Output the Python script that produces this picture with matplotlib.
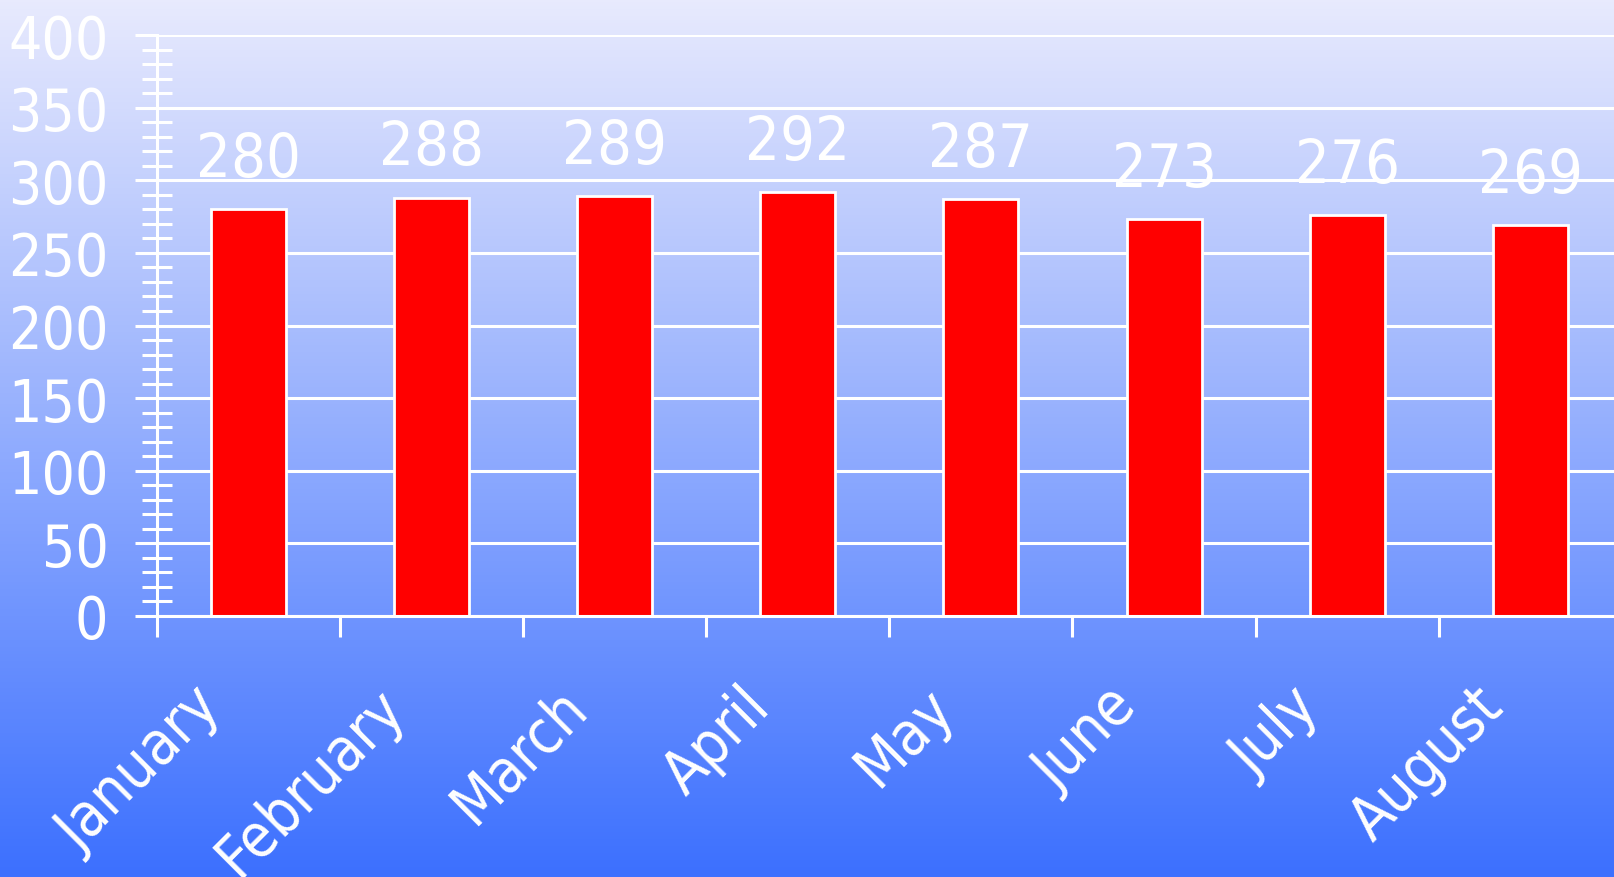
import numpy as np
import matplotlib
matplotlib.use("Agg")
import matplotlib.pyplot as plt
from matplotlib.colors import LinearSegmentedColormap
from matplotlib.ticker import MultipleLocator, FixedLocator, NullFormatter
import matplotlib.transforms as mtransforms

months = ["January", "February", "March", "April", "May", "June", "July", "August"]
values = [280, 288, 289, 292, 287, 273, 276, 269]
y_ticks = [0, 50, 100, 150, 200, 250, 300, 350, 400]

plt.rcParams['font.family'] = ['DejaVu Sans']
plt.rcParams['font.stretch'] = 'condensed'

W, H, DPI = 1615, 878, 100
fig = plt.figure(figsize=(W / DPI, H / DPI), dpi=DPI)

# background gradient
bg = fig.add_axes([0, 0, 1, 1], zorder=0)
cmap = LinearSegmentedColormap.from_list("bg", ["#E8EAFD", "#3C70FF"])
grad = np.linspace(0, 1, 256).reshape(-1, 1)
bg.imshow(grad, cmap=cmap, aspect="auto", extent=[0, 1, 0, 1], origin="upper")
bg.set_axis_off()

left = 157 / W
bottom = (H - 617) / H
height = 581 / H
cat_w = 183.1
width = 8 * cat_w / W
ax = fig.add_axes([left, bottom, width, height], zorder=1)
ax.set_facecolor("none")

n = len(months)
centers = np.arange(n) + 0.5
ax.bar(centers, values, width=0.41, color="#FF0000", edgecolor="white",
       linewidth=2, zorder=3)

for c, v in zip(centers, values):
    ax.annotate(str(v), (c, v), xytext=(0, 24), textcoords="offset points",
                ha="center", va="baseline", color="white", fontsize=44, zorder=4)

ax.set_xlim(0, n)
ax.set_ylim(y_ticks[0], y_ticks[-1])

# grid
ax.set_yticks(y_ticks)
ax.yaxis.grid(True, color="white", linewidth=2.2, zorder=1)
ax.set_axisbelow(True)

# spines
for s in ["top", "right"]:
    ax.spines[s].set_visible(False)
ax.spines["left"].set_color("white")
ax.spines["left"].set_linewidth(2.2)
ax.spines["bottom"].set_color("white")
ax.spines["bottom"].set_linewidth(2.2)
ax.spines["left"].set_zorder(5)
ax.spines["bottom"].set_zorder(5)

# y ticks
ax.yaxis.set_minor_locator(MultipleLocator(10))
ax.tick_params(axis="y", which="major", direction="out", length=16, width=2.2,
               color="white", labelcolor="white", labelsize=42, pad=19)
ax.tick_params(axis="y", which="minor", direction="inout", length=21, width=2.2,
               color="white")

# x ticks at category boundaries, labels at centers
ax.xaxis.set_major_locator(FixedLocator(np.arange(n)))
ax.xaxis.set_major_formatter(NullFormatter())
ax.xaxis.set_minor_locator(FixedLocator(centers))
ax.set_xticklabels(months, minor=True)
ax.tick_params(axis="x", which="major", direction="out", length=15, width=2.2,
               color="white")
ax.tick_params(axis="x", which="minor", length=0, labelcolor="white",
               labelsize=43, pad=67)
offset = mtransforms.ScaledTranslation(-25 / DPI, 0, fig.dpi_scale_trans)
for lbl in ax.get_xticklabels(minor=True):
    lbl.set_rotation(45)
    lbl.set_ha("right")
    lbl.set_va("baseline")
    lbl.set_rotation_mode("anchor")
    lbl.set_transform(lbl.get_transform() + offset)

fig.savefig("out.png", dpi=DPI)
